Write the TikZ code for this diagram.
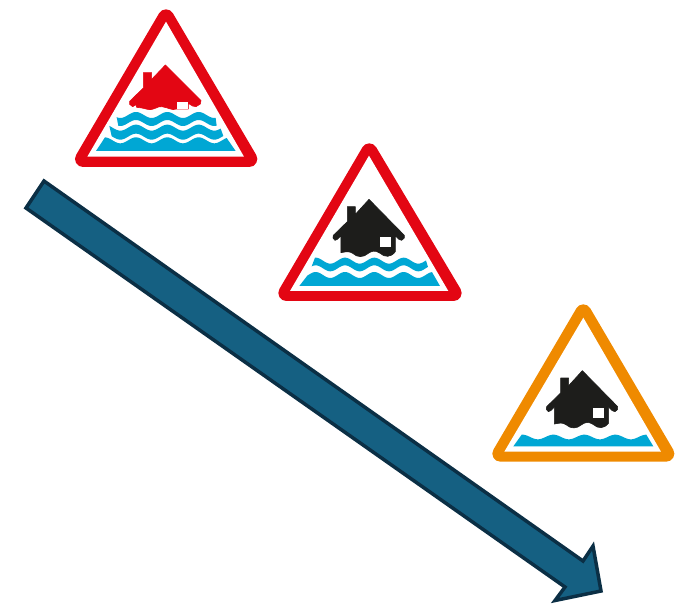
\documentclass[tikz,border=0pt]{standalone}
\definecolor{wred}{HTML}{E30613}
\definecolor{worange}{HTML}{EF8A00}
\definecolor{wblue}{HTML}{00A7D4}
\definecolor{wblack}{HTML}{1D1D1B}
\definecolor{arrowfill}{HTML}{156082}
\definecolor{arrowline}{HTML}{0B2F45}
\tikzset{
  signframe/.style={draw=#1,fill=#1,line width=16pt,line join=round},
  water/.style={fill=wblue},
  housebody/.style={fill=#1,draw=#1,line width=0.6pt,line join=round},
  icon/.style={shift={(#1)},x=0.3333pt,y=-0.3333pt},
}
% top-edge wave from x1 to x2, bottom-edge wave from x4 back to x3
\newcommand{\waveband}[9]{% x1,x2,ytop,x3,x4,ybot,amp,x0,P
  \fill[water] plot[domain=#1:#2,samples=70,smooth] (\x,{#3-#7*cos((360/#9)*(\x-#8))})
    -- plot[domain=#4:#5,samples=70,smooth] (\x,{#6-#7*cos((360/#9)*(\x-#8))}) -- cycle;
}
\newcommand{\waterbase}[7]{% x1,x2,ytop,xbl,xbr,ybot,amp ; then phase via \wxo, \wper
  \fill[water] (#4,#6) -- plot[domain=#1:#2,samples=70,smooth] (\x,{#3-#7*cos((360/\wper)*(\x-\wxo))}) -- (#5,#6) -- cycle;
}
\newcommand{\bighouse}[1]{%
  \fill[housebody=#1] (297,193) -- (403,301) -- (403,309) -- (395,316) -- (387,313) -- (376,302)
    -- (376,350) .. controls (362,368) and (345,368) .. (329,354)
    .. controls (315,345) and (305,348) .. (295,355)
    .. controls (280,368) and (262,368) .. (248,355)
    .. controls (238,348) and (228,350) .. (213,353)
    -- (213,302) -- (202,313) -- (195,316) -- (189,309) -- (190,301)
    -- (232,260) -- (232,215) -- (256,215) -- (256,238) -- cycle;
  \fill[white] (330,305) rectangle (362,336);
}
\begin{document}
\begin{tikzpicture}[x=1pt,y=-1pt]
\useasboundingbox (0,0) rectangle (692,606);
% Severe flood warning
\begin{scope}[icon={60,0}]
  \draw[signframe=wred] (318,52) -- (568,477) -- (69,477) -- cycle;
  \fill[white] (318,65) -- (552,470) -- (82,470) -- cycle;
  \fill[housebody=wred] (316,195) -- (423,302) -- (421,312) -- (408,320) -- (398,318) -- (385,310)
    -- (385,327) -- (350,327) .. controls (335,333) and (325,322) .. (305,320)
    .. controls (290,318) and (285,332) .. (262,328)
    .. controls (250,325) and (240,322) .. (230,322)
    -- (228,314) -- (218,320) -- (209,313) -- (209,304)
    -- (250,264) -- (250,218) -- (275,218) -- (275,238) -- cycle;
  \fill[white] (352,307) rectangle (385,328);
  \waveband{170}{467}{345}{470}{175}{369}{9}{228}{94}
  \waveband{148}{482}{383}{490}{155}{410}{9}{228}{94}
  \def\wxo{228}\def\wper{94}
  \waterbase{135}{500}{421}{108}{527}{453}{9}
\end{scope}
% Flood warning
\begin{scope}[icon={270,135}]
  \draw[signframe=wred] (298,49) -- (551,474) -- (49,474) -- cycle;
  \fill[white] (297,62) -- (535,468) -- (60,468) -- cycle;
  \bighouse{wblack}
  \waveband{135}{468}{377}{474}{125}{400}{9}{225}{88}
  \def\wxo{225}\def\wper{88}
  \waterbase{112}{486}{420}{88}{510}{453}{9}
\end{scope}
% Flood alert
\begin{scope}[icon={485,295}]
  \draw[signframe=worange] (295,52) -- (544,476) -- (46,476) -- cycle;
  \fill[white] (295,68) -- (528,470) -- (58,470) -- cycle;
  \begin{scope}[shift={(-5,34)}]
    \bighouse{wblack}
  \end{scope}
  \def\wxo{205}\def\wper{93}
  \waterbase{110}{484}{426}{85}{505}{454}{7}
\end{scope}
% Arrow
\draw[fill=arrowfill,draw=arrowline,line width=3.5pt,miter limit=6]
  (44,181) -- (583,561) -- (593,546) -- (601,591) -- (555,600.5) -- (565,587) -- (26,208) -- cycle;
\end{tikzpicture}
\end{document}
